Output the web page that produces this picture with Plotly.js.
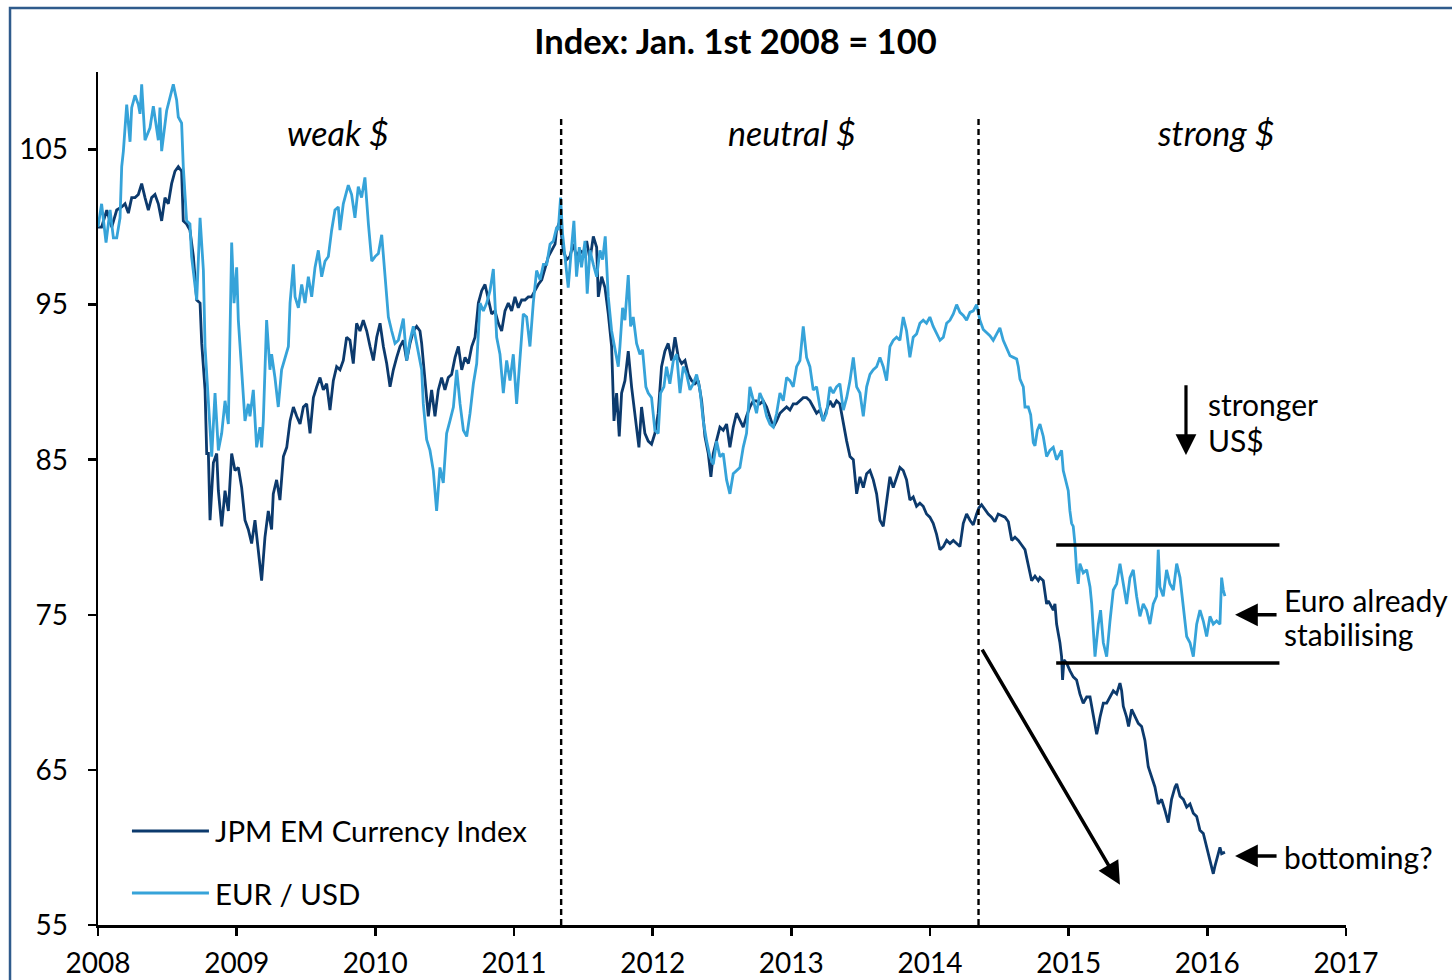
<!DOCTYPE html>
<html>
<head>
<meta charset="utf-8">
<script src="https://cdn.plot.ly/plotly-3.0.1.min.js"></script>
<style>
  html, body { margin: 0; padding: 0; background: #ffffff; }
  #chart { width: 1452px; height: 980px; }
</style>
</head>
<body>
<div id="chart"></div>
<script>
// ---------------- DATA ----------------
var chartTitle = "Index: Jan. 1st 2008 = 100";
var seriesNames = ["JPM EM Currency Index", "EUR / USD"];
var xTickYears = [2008, 2009, 2010, 2011, 2012, 2013, 2014, 2015, 2016, 2017];
var yTickValues = [55, 65, 75, 85, 95, 105];
var regimeBreaks = [2011.34, 2014.35];
var regimeLabels = ["weak $", "neutral $", "strong $"];
var euroRangeTop = 79.5;
var euroRangeBottom = 71.9;

var emYears = [
2008.000,2008.026,2008.063,2008.099,2008.135,2008.171,2008.195,2008.219,2008.243,2008.267,2008.291,2008.315,2008.339,2008.363,2008.387,2008.411,2008.435,2008.459,2008.483,2008.507,2008.531,2008.555,2008.579,2008.603,2008.615,2008.639,2008.663,2008.688,2008.712,2008.736,2008.748,2008.772,2008.784,2008.796,2008.808,2008.832,2008.856,2008.868,2008.892,2008.916,2008.940,2008.964,2008.988,
2009.012,2009.036,2009.060,2009.084,2009.108,2009.132,2009.156,2009.180,2009.204,2009.228,2009.252,2009.264,2009.288,2009.312,2009.337,2009.361,2009.385,2009.409,2009.433,2009.457,2009.481,2009.505,2009.529,2009.553,2009.577,2009.601,2009.625,2009.649,2009.673,2009.697,2009.721,2009.745,2009.769,2009.793,2009.817,2009.841,2009.865,2009.889,2009.913,2009.938,2009.962,2009.986,
2010.010,2010.034,2010.058,2010.082,2010.106,2010.130,2010.154,2010.178,2010.202,2010.226,2010.250,2010.274,2010.298,2010.322,2010.334,2010.358,2010.382,2010.406,2010.430,2010.454,2010.478,2010.502,2010.526,2010.550,2010.575,2010.599,2010.623,2010.647,2010.671,2010.695,2010.719,2010.743,2010.767,2010.791,2010.815,2010.839,2010.863,2010.887,2010.911,2010.935,2010.959,2010.983,
2011.007,2011.031,2011.055,2011.079,2011.103,2011.127,2011.151,2011.175,2011.200,2011.224,2011.248,2011.272,2011.296,2011.307,2011.331,2011.355,2011.379,2011.403,2011.427,2011.451,2011.475,2011.499,2011.524,2011.548,2011.572,2011.596,2011.608,2011.632,2011.656,2011.680,2011.704,2011.721,2011.740,2011.759,2011.776,2011.800,2011.824,2011.848,2011.872,2011.901,2011.920,2011.944,2011.968,2011.992,
2012.016,2012.040,2012.064,2012.088,2012.112,2012.137,2012.161,2012.185,2012.209,2012.233,2012.257,2012.281,2012.305,2012.329,2012.353,2012.377,2012.401,2012.420,2012.437,2012.461,2012.485,2012.509,2012.533,2012.557,2012.581,2012.605,2012.629,2012.653,2012.677,2012.701,2012.725,2012.749,2012.773,2012.797,2012.822,2012.846,2012.870,2012.894,2012.918,2012.942,2012.966,2012.990,
2013.014,2013.038,2013.062,2013.086,2013.110,2013.134,2013.158,2013.182,2013.206,2013.230,2013.254,2013.278,2013.302,2013.326,2013.350,2013.375,2013.399,2013.423,2013.447,2013.471,2013.495,2013.519,2013.543,2013.567,2013.591,2013.615,2013.639,2013.663,2013.687,2013.711,2013.735,2013.759,2013.783,2013.807,2013.831,2013.855,2013.879,2013.903,2013.927,2013.951,2013.975,2013.999,
2014.023,2014.047,2014.072,2014.096,2014.120,2014.144,2014.168,2014.192,2014.216,2014.240,2014.264,2014.288,2014.312,2014.336,2014.353,2014.372,2014.396,2014.420,2014.444,2014.468,2014.492,2014.516,2014.541,2014.565,2014.589,2014.613,2014.637,2014.661,2014.685,2014.709,2014.733,2014.757,2014.781,2014.793,2014.817,2014.841,2014.853,2014.865,2014.889,2014.901,2014.913,2014.925,2014.937,2014.949,2014.956,2014.966,2014.985,
2015.009,2015.033,2015.057,2015.081,2015.105,2015.130,2015.154,2015.178,2015.202,2015.214,2015.226,2015.250,2015.274,2015.298,2015.322,2015.346,2015.370,2015.382,2015.394,2015.418,2015.432,2015.454,2015.478,2015.502,2015.526,2015.550,2015.574,2015.598,2015.622,2015.646,2015.670,2015.694,2015.718,2015.742,2015.767,2015.779,2015.803,2015.827,2015.851,2015.875,2015.899,2015.923,2015.947,2015.971,2015.995,
2016.019,2016.043,2016.055,2016.067,2016.091,2016.103,2016.127
];
var emValues = [
100.0,100.0,101.1,100.0,101.1,101.3,101.5,100.9,101.9,101.9,102.1,102.8,101.9,101.1,101.9,102.1,101.5,100.4,101.9,101.5,102.8,103.6,103.9,103.6,100.4,100.2,99.8,98.1,95.3,95.1,92.5,89.5,85.4,85.4,81.1,84.8,85.4,83.0,80.7,83.0,81.7,85.4,84.3,
84.5,83.2,81.1,80.5,79.6,81.1,79.0,77.2,80.0,81.7,80.5,82.8,83.7,82.4,85.2,85.8,87.5,88.4,87.8,87.3,88.4,88.6,86.7,89.0,89.7,90.3,89.5,89.9,88.2,90.1,91.0,90.8,91.4,92.9,92.7,91.2,93.8,93.3,94.0,93.3,92.3,91.4,
92.9,93.8,92.3,91.2,89.7,90.8,91.6,92.3,92.7,91.4,92.5,93.3,93.6,93.3,92.5,90.3,87.8,89.5,87.8,89.5,90.3,89.5,90.3,90.5,91.6,92.3,90.8,91.6,91.2,92.3,92.9,95.1,95.9,96.3,95.3,94.4,94.6,93.8,93.3,94.6,95.1,94.6,
95.5,94.8,95.3,95.3,95.5,95.5,95.9,96.3,96.6,97.4,98.1,98.5,98.9,99.8,100.4,98.5,97.9,98.1,98.9,98.1,98.5,98.3,99.1,97.9,99.4,98.7,95.5,96.8,96.1,94.4,92.3,87.5,89.3,86.5,89.3,90.1,92.0,89.7,88.0,85.8,88.4,86.7,86.2,86.0,
86.7,88.0,91.0,92.0,92.5,91.4,92.9,91.6,91.2,91.4,90.5,90.1,89.9,90.1,88.8,86.5,85.4,83.9,85.4,86.2,87.1,86.9,87.3,85.8,87.1,88.0,87.5,87.1,87.8,88.4,88.8,88.8,88.6,88.8,88.4,87.8,87.1,87.5,88.0,88.2,88.4,88.2,
88.6,88.6,88.8,89.0,89.0,88.8,88.4,88.0,88.2,87.5,88.2,88.8,88.4,88.8,88.6,87.3,86.2,85.2,85.0,82.8,83.9,83.2,84.1,84.3,83.7,82.8,81.1,80.7,82.4,83.9,83.2,83.9,84.5,84.3,83.7,82.4,82.6,82.0,82.2,82.0,81.5,81.3,
80.9,80.2,79.2,79.4,79.8,79.6,79.8,79.6,79.4,80.9,81.5,81.1,80.8,81.5,81.9,82.1,81.8,81.5,81.3,81.0,81.5,81.4,81.3,81.0,79.8,80.0,79.8,79.5,79.2,78.2,77.2,77.5,77.2,77.4,77.2,75.7,75.9,75.7,75.3,75.7,74.4,73.8,73.2,72.3,70.8,72.1,71.9,
71.4,71.0,70.8,69.9,69.3,69.7,69.7,68.6,67.3,67.8,68.4,69.3,69.3,69.7,70.1,69.9,70.6,70.1,69.1,68.4,67.8,68.9,68.4,68.0,67.8,66.9,65.2,64.6,63.9,62.8,63.1,62.4,61.6,63.1,63.9,64.1,63.3,63.1,62.6,62.8,62.2,62.0,61.1,60.9,60.0,
59.0,58.3,58.8,59.2,60.0,59.6,59.7
];

var eurYears = [
2008.000,2008.026,2008.058,2008.087,2008.111,2008.135,2008.159,2008.171,2008.183,2008.207,2008.231,2008.243,2008.267,2008.291,2008.303,2008.315,2008.339,2008.375,2008.399,2008.435,2008.447,2008.459,2008.495,2008.519,2008.543,2008.567,2008.579,2008.603,2008.615,2008.639,2008.663,2008.675,2008.712,2008.736,2008.760,2008.772,2008.796,2008.820,2008.844,2008.868,2008.892,2008.916,2008.940,2008.964,2008.981,
2009.000,2009.012,2009.036,2009.060,2009.084,2009.096,2009.120,2009.144,2009.168,2009.180,2009.192,2009.216,2009.240,2009.252,2009.276,2009.300,2009.324,2009.349,2009.373,2009.385,2009.409,2009.421,2009.445,2009.469,2009.493,2009.517,2009.541,2009.565,2009.589,2009.613,2009.637,2009.661,2009.685,2009.709,2009.733,2009.745,2009.769,2009.805,2009.829,2009.853,2009.877,2009.901,2009.925,2009.950,2009.974,2009.998,
2010.022,2010.046,2010.070,2010.094,2010.118,2010.142,2010.166,2010.202,2010.226,2010.250,2010.274,2010.310,2010.334,2010.346,2010.370,2010.394,2010.418,2010.442,2010.466,2010.490,2010.514,2010.538,2010.563,2010.587,2010.611,2010.635,2010.659,2010.683,2010.707,2010.731,2010.755,2010.779,2010.803,2010.827,2010.851,2010.875,2010.899,2010.923,2010.947,2010.971,2010.995,
2011.019,2011.043,2011.067,2011.091,2011.115,2011.139,2011.163,2011.188,2011.212,2011.236,2011.260,2011.284,2011.308,2011.319,2011.336,2011.350,2011.367,2011.391,2011.415,2011.432,2011.451,2011.471,2011.487,2011.512,2011.528,2011.548,2011.572,2011.596,2011.620,2011.639,2011.658,2011.680,2011.704,2011.728,2011.752,2011.764,2011.783,2011.800,2011.824,2011.841,2011.860,2011.884,2011.908,2011.927,2011.951,2011.968,2011.992,
2012.016,2012.040,2012.057,2012.081,2012.100,2012.124,2012.149,2012.173,2012.197,2012.221,2012.245,2012.269,2012.293,2012.317,2012.341,2012.365,2012.389,2012.413,2012.437,2012.461,2012.485,2012.509,2012.533,2012.557,2012.581,2012.605,2012.629,2012.653,2012.677,2012.701,2012.725,2012.749,2012.773,2012.797,2012.822,2012.846,2012.870,2012.894,2012.918,2012.942,2012.966,2012.990,
2013.014,2013.038,2013.062,2013.086,2013.110,2013.134,2013.158,2013.182,2013.206,2013.230,2013.254,2013.278,2013.302,2013.326,2013.350,2013.375,2013.399,2013.423,2013.447,2013.471,2013.495,2013.519,2013.543,2013.567,2013.591,2013.615,2013.639,2013.663,2013.687,2013.711,2013.735,2013.759,2013.783,2013.807,2013.831,2013.855,2013.879,2013.903,2013.927,2013.951,2013.975,2013.999,
2014.023,2014.047,2014.072,2014.096,2014.120,2014.144,2014.168,2014.192,2014.216,2014.240,2014.264,2014.288,2014.312,2014.336,2014.360,2014.384,2014.408,2014.432,2014.456,2014.480,2014.504,2014.528,2014.553,2014.577,2014.601,2014.625,2014.637,2014.649,2014.673,2014.685,2014.709,2014.726,2014.745,2014.757,2014.774,2014.793,2014.817,2014.841,2014.865,2014.889,2014.913,2014.937,2014.949,2014.961,2014.985,2014.997,
2015.009,2015.021,2015.033,2015.045,2015.057,2015.069,2015.081,2015.105,2015.130,2015.154,2015.166,2015.178,2015.190,2015.214,2015.230,2015.250,2015.274,2015.298,2015.322,2015.346,2015.370,2015.394,2015.418,2015.442,2015.466,2015.490,2015.514,2015.538,2015.562,2015.586,2015.610,2015.634,2015.646,2015.658,2015.682,2015.706,2015.730,2015.755,2015.779,2015.803,2015.827,2015.851,2015.875,2015.899,2015.923,2015.947,2015.971,2015.995,
2016.019,2016.043,2016.067,2016.091,2016.103,2016.115,2016.127
];
var eurValues = [
100.0,101.5,99.0,101.1,99.3,99.3,100.6,103.9,104.9,107.9,105.5,107.7,108.5,107.9,107.3,109.2,105.6,106.4,107.8,105.6,107.7,104.9,107.5,108.4,109.2,108.2,107.1,106.7,103.9,100.4,100.2,98.1,95.3,100.6,97.2,92.3,88.6,85.2,89.3,85.6,86.7,88.8,87.3,99.0,95.1,
97.4,94.0,90.8,87.5,88.6,87.8,89.5,85.8,87.1,85.8,87.5,94.0,90.8,91.8,90.3,88.4,90.8,91.6,92.3,95.1,97.6,95.5,94.8,96.3,95.1,96.8,95.5,97.4,98.5,96.8,97.8,98.1,99.8,101.1,101.3,99.8,101.5,102.7,102.1,100.6,102.6,101.9,103.2,100.2,97.8,98.1,
98.3,99.5,96.6,94.2,93.3,92.5,92.7,94.1,91.4,92.7,93.6,91.8,90.8,88.6,86.3,85.6,84.3,81.7,84.5,83.5,86.7,87.5,88.4,90.8,88.6,86.9,86.5,88.0,89.9,91.2,95.1,94.6,95.1,95.9,97.3,92.9,91.8,89.3,91.4,90.1,91.8,
88.6,91.4,94.4,94.2,92.3,95.1,97.2,96.6,97.6,97.6,98.9,99.1,100.0,99.8,101.9,99.6,98.1,96.1,98.7,100.4,96.8,98.7,97.4,99.1,95.7,98.5,97.6,96.8,98.5,97.9,99.4,95.5,93.3,92.1,91.0,92.3,94.8,94.0,96.9,93.6,94.2,92.5,91.8,92.1,89.7,89.3,89.0,
86.9,86.7,89.3,89.7,91.0,89.9,91.4,91.8,89.3,91.0,90.5,89.5,89.9,90.5,89.5,87.5,86.2,85.2,84.7,86.2,85.2,85.4,83.7,82.8,84.1,84.3,84.5,85.8,86.7,89.7,88.8,88.0,89.3,88.8,87.8,87.3,87.1,88.0,89.3,88.8,90.3,90.1,
89.7,91.0,91.4,93.6,91.6,91.0,89.5,89.7,88.4,87.5,88.0,89.7,89.3,89.7,89.9,88.2,89.0,90.1,91.6,89.7,89.3,87.8,89.7,90.5,90.8,91.0,91.6,91.0,90.1,92.3,92.7,92.9,92.7,94.2,93.3,91.6,92.9,93.1,93.8,94.0,93.8,94.2,
93.6,93.1,92.7,92.9,93.8,94.0,94.4,95.0,94.5,94.3,94.0,94.5,94.6,95.0,94.0,93.4,93.2,93.0,92.7,93.1,93.5,92.7,92.2,91.7,91.6,91.5,91.0,90.2,89.7,88.4,88.4,87.9,86.1,85.9,86.9,87.3,86.5,85.2,85.6,85.8,85.0,85.4,85.6,84.3,83.5,83.0,
81.7,80.9,80.7,79.6,77.9,77.0,78.3,77.7,77.9,76.8,75.7,74.0,72.3,74.4,75.3,73.2,72.3,74.6,76.6,77.0,78.3,77.0,75.7,77.4,77.9,76.2,74.9,75.7,75.3,74.4,75.7,76.2,79.2,76.8,76.2,77.9,77.0,76.6,78.3,77.4,75.3,73.6,73.2,72.3,74.4,75.3,74.6,73.6,
74.9,74.4,74.6,74.4,77.4,76.6,76.2
];

// ---------------- STYLE ----------------
var darkBlue = "#0c3a6d";
var lightBlue = "#36a3d9";
var fontFamily = "Lato, 'Open Sans', sans-serif";

var traces = [
  { x: emYears, y: emValues, name: seriesNames[0], type: "scatter", mode: "lines",
    line: { color: darkBlue, width: 2.8 }, showlegend: false, hoverinfo: "skip" },
  { x: eurYears, y: eurValues, name: seriesNames[1], type: "scatter", mode: "lines",
    line: { color: lightBlue, width: 2.8 }, showlegend: false, hoverinfo: "skip" }
];

var shapes = [];
// outer frame
shapes.push({ type: "rect", xref: "paper", yref: "paper", x0: -0.0705, x1: 1.2, y0: -0.2, y1: 1.075,
  line: { color: "#2f5b8c", width: 2.5 }, fillcolor: "rgba(0,0,0,0)", layer: "above" });
// regime breaks
regimeBreaks.forEach(function (bx) {
  shapes.push({ type: "line", xref: "x", yref: "y", x0: bx, x1: bx, y0: 55, y1: 107,
    line: { color: "#000000", width: 2.4, dash: "6px,4px" } });
});
// euro range lines
[euroRangeTop, euroRangeBottom].forEach(function (ly) {
  shapes.push({ type: "line", xref: "x", yref: "y", x0: 2014.91, x1: 2016.52, y0: ly, y1: ly,
    line: { color: "#000000", width: 3.5 } });
});
// manual legend lines
shapes.push({ type: "line", xref: "paper", yref: "paper", x0: 0.0272, x1: 0.0889, y0: 0.1102, y1: 0.1102,
  line: { color: darkBlue, width: 3 } });
shapes.push({ type: "line", xref: "paper", yref: "paper", x0: 0.0272, x1: 0.0889, y0: 0.0375, y1: 0.0375,
  line: { color: lightBlue, width: 3 } });

var textFont = { family: fontFamily, size: 30, color: "#000000" };
var legendFont = { family: fontFamily, size: 29.4, color: "#000000" };
var regimeFont = { family: fontFamily, size: 34, color: "#000000" };
var annotations = [];
// regime labels
var regimeCenters = [2009.73, 2013.005, 2016.06];
regimeLabels.forEach(function (t, i) {
  annotations.push({ x: regimeCenters[i], y: 106.1, xref: "x", yref: "y", text: "<i>" + t + "</i>",
    showarrow: false, font: regimeFont, xanchor: "center", yanchor: "middle" });
});
// legend text
annotations.push({ x: 0.0922, y: 0.1102, xref: "paper", yref: "paper", text: seriesNames[0],
  showarrow: false, font: legendFont, xanchor: "left", yanchor: "middle" });
annotations.push({ x: 0.0922, y: 0.0375, xref: "paper", yref: "paper", text: seriesNames[1],
  showarrow: false, font: legendFont, xanchor: "left", yanchor: "middle" });
// stronger US$
annotations.push({ x: 2015.846, y: 85.3, ax: 2015.846, ay: 89.9, xref: "x", yref: "y", axref: "x", ayref: "y",
  text: "", showarrow: true, arrowhead: 2, arrowsize: 1.3, arrowwidth: 3.2, arrowcolor: "#000000", standoff: 0 });
annotations.push({ x: 2015.99, y: 88.57, xref: "x", yref: "y", text: "stronger",
  showarrow: false, font: textFont, xanchor: "left", yanchor: "middle" });
annotations.push({ x: 2015.99, y: 86.25, xref: "x", yref: "y", text: "US$",
  showarrow: false, font: textFont, xanchor: "left", yanchor: "middle" });
// Euro already stabilising
annotations.push({ x: 2016.20, y: 75.0, ax: 2016.51, ay: 75.0, xref: "x", yref: "y", axref: "x", ayref: "y",
  text: "", showarrow: true, arrowhead: 2, arrowsize: 1.3, arrowwidth: 3.5, arrowcolor: "#000000", standoff: 0 });
annotations.push({ x: 2016.54, y: 75.94, xref: "x", yref: "y", text: "Euro already",
  showarrow: false, font: textFont, xanchor: "left", yanchor: "middle" });
annotations.push({ x: 2016.54, y: 73.75, xref: "x", yref: "y", text: "stabilising",
  showarrow: false, font: textFont, xanchor: "left", yanchor: "middle" });
// bottoming?
annotations.push({ x: 2016.20, y: 59.45, ax: 2016.51, ay: 59.45, xref: "x", yref: "y", axref: "x", ayref: "y",
  text: "", showarrow: true, arrowhead: 2, arrowsize: 1.3, arrowwidth: 3.5, arrowcolor: "#000000", standoff: 0 });
annotations.push({ x: 2016.54, y: 59.4, xref: "x", yref: "y", text: "bottoming?",
  showarrow: false, font: textFont, xanchor: "left", yanchor: "middle" });
// diagonal trend arrow
annotations.push({ x: 2015.37, y: 57.6, ax: 2014.37, ay: 72.85, xref: "x", yref: "y", axref: "x", ayref: "y",
  text: "", showarrow: true, arrowhead: 2, arrowsize: 1.3, arrowwidth: 3.5, arrowcolor: "#000000", standoff: 0 });

var layout = {
  width: 1452, height: 980,
  margin: { l: 98, r: 106, t: 72, b: 55, pad: 0 },
  paper_bgcolor: "#ffffff", plot_bgcolor: "#ffffff",
  font: { family: fontFamily, size: 28, color: "#000000" },
  title: { text: "<b>" + chartTitle + "</b>", font: { family: fontFamily, size: 34.5, color: "#000000" },
    x: 0.5065, xref: "container", xanchor: "center", y: 0.957, yref: "container", yanchor: "middle" },
  xaxis: {
    range: [2008, 2017], tickmode: "array", tickvals: xTickYears, ticktext: xTickYears.map(String),
    showgrid: false, zeroline: false, showline: true, linecolor: "#000000", linewidth: 2.5,
    ticks: "outside", ticklen: 8, tickwidth: 2.5, tickcolor: "#000000",
    tickfont: { family: fontFamily, size: 28, color: "#000000" }, ticklabelstandoff: 4
  },
  yaxis: {
    range: [55, 110], tickmode: "array", tickvals: yTickValues, ticktext: yTickValues.map(String),
    showgrid: false, zeroline: false, showline: true, linecolor: "#000000", linewidth: 2.5,
    ticks: "outside", ticklen: 8, tickwidth: 2.5, tickcolor: "#000000",
    tickfont: { family: fontFamily, size: 28, color: "#000000" }, ticklabelstandoff: 14
  },
  shapes: shapes,
  annotations: annotations,
  showlegend: false
};

Plotly.newPlot("chart", traces, layout, { staticPlot: true, displayModeBar: false });
</script>
</body>
</html>
